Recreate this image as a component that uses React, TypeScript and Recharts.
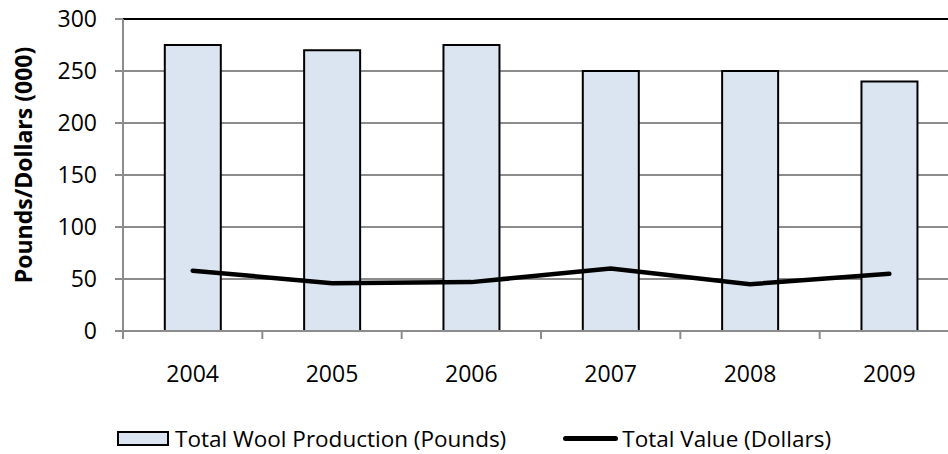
import { ComposedChart, Bar, Line, XAxis, YAxis, CartesianGrid, ReferenceLine, Legend, Label } from "recharts"

const years = ["2004", "2005", "2006", "2007", "2008", "2009"]
const woolPounds = [275, 270, 275, 250, 250, 240]
const valueDollars = [58, 46, 47, 60, 45, 55]
const yTicks = [0, 50, 100, 150, 200, 250, 300]

const AXIS_GRAY = "#8c8c8c"
const BAR_FILL = "#dbe5f1"
const FONT = "'Open Sans', sans-serif"

const data = years.map((year, i) => ({
  year,
  wool: woolPounds[i],
  value: valueDollars[i],
}))

// category ticks sit between the bars, like the spreadsheet original
function YearTick(props: any) {
  const { x, y, payload } = props
  const half = payload?.offset ?? 836 / 12
  return (
    <g>
      <line x1={x - half} y1={y} x2={x - half} y2={y + 8} stroke={AXIS_GRAY} strokeWidth={2} />
      <text x={x} y={y + 51} textAnchor="middle" fill="#000" fontSize={23} fontFamily={FONT}>
        {payload.value}
      </text>
    </g>
  )
}

function YTitle(props: any) {
  const vb = props.viewBox || { x: 0, y: 19, width: 123, height: 312 }
  const cx = vb.x + 23
  const cy = vb.y + vb.height / 2 - 10
  return (
    <text
      transform={`translate(${cx},${cy}) rotate(-90)`}
      textAnchor="middle"
      dominantBaseline="central"
      fontSize={23}
      fontWeight={700}
      fontFamily={FONT}
      fill="#000"
    >
      Pounds/Dollars (000)
    </text>
  )
}

function ChartLegend() {
  return (
    <div
      style={{
        display: "flex",
        alignItems: "center",
        paddingLeft: 117,
        height: 31,
        fontSize: 22.5,
        lineHeight: "31px",
        fontFamily: FONT,
        color: "#000",
        whiteSpace: "nowrap",
      }}
    >
      <span
        style={{
          display: "inline-block",
          width: 52,
          height: 15,
          boxSizing: "border-box",
          border: "2px solid #000",
          background: BAR_FILL,
          marginRight: 6,
        }}
      />
      <span>Total Wool Production (Pounds)</span>
      <span
        style={{
          display: "inline-block",
          width: 55,
          height: 5,
          borderRadius: 3,
          background: "#000",
          marginLeft: 57,
          marginRight: 4,
        }}
      />
      <span>Total Value (Dollars)</span>
    </div>
  )
}

export default function App() {
  return (
    <div
      style={{
        position: "fixed",
        left: 0,
        top: 0,
        width: 948,
        height: 454,
        overflow: "hidden",
        background: "#fff",
        fontFamily: FONT,
      }}
    >
      <ComposedChart
        width={960}
        height={454}
        data={data}
        margin={{ top: 19, right: 1, left: 0, bottom: 83 }}
        barCategoryGap="30%"
      >
        <CartesianGrid vertical={false} stroke={AXIS_GRAY} strokeWidth={2} />
        <XAxis
          dataKey="year"
          height={40}
          interval={0}
          tickLine={false}
          tickSize={0}
          tickMargin={0}
          axisLine={{ stroke: AXIS_GRAY, strokeWidth: 2 }}
          tick={<YearTick />}
        />
        <YAxis
          width={123}
          domain={[0, 300]}
          ticks={yTicks}
          interval={0}
          tickSize={8}
          tickMargin={18}
          axisLine={{ stroke: AXIS_GRAY, strokeWidth: 2 }}
          tickLine={{ stroke: AXIS_GRAY, strokeWidth: 2 }}
          tick={{ fill: "#000", fontSize: 23, fontFamily: FONT }}
        >
          <Label content={<YTitle />} />
        </YAxis>
        <ReferenceLine y={300} stroke="#000" strokeWidth={2} />
        <Bar
          dataKey="wool"
          name="Total Wool Production (Pounds)"
          fill={BAR_FILL}
          stroke="#000"
          strokeWidth={2}
          isAnimationActive={false}
        />
        <Line
          dataKey="value"
          name="Total Value (Dollars)"
          type="linear"
          stroke="#000"
          strokeWidth={4.5}
          strokeLinecap="round"
          dot={false}
          activeDot={false}
          isAnimationActive={false}
        />
        <Legend
          layout="horizontal"
          verticalAlign="middle"
          align="center"
          wrapperStyle={{ top: 423, left: 0, width: 960, height: 31 }}
          content={<ChartLegend />}
        />
      </ComposedChart>
    </div>
  )
}
